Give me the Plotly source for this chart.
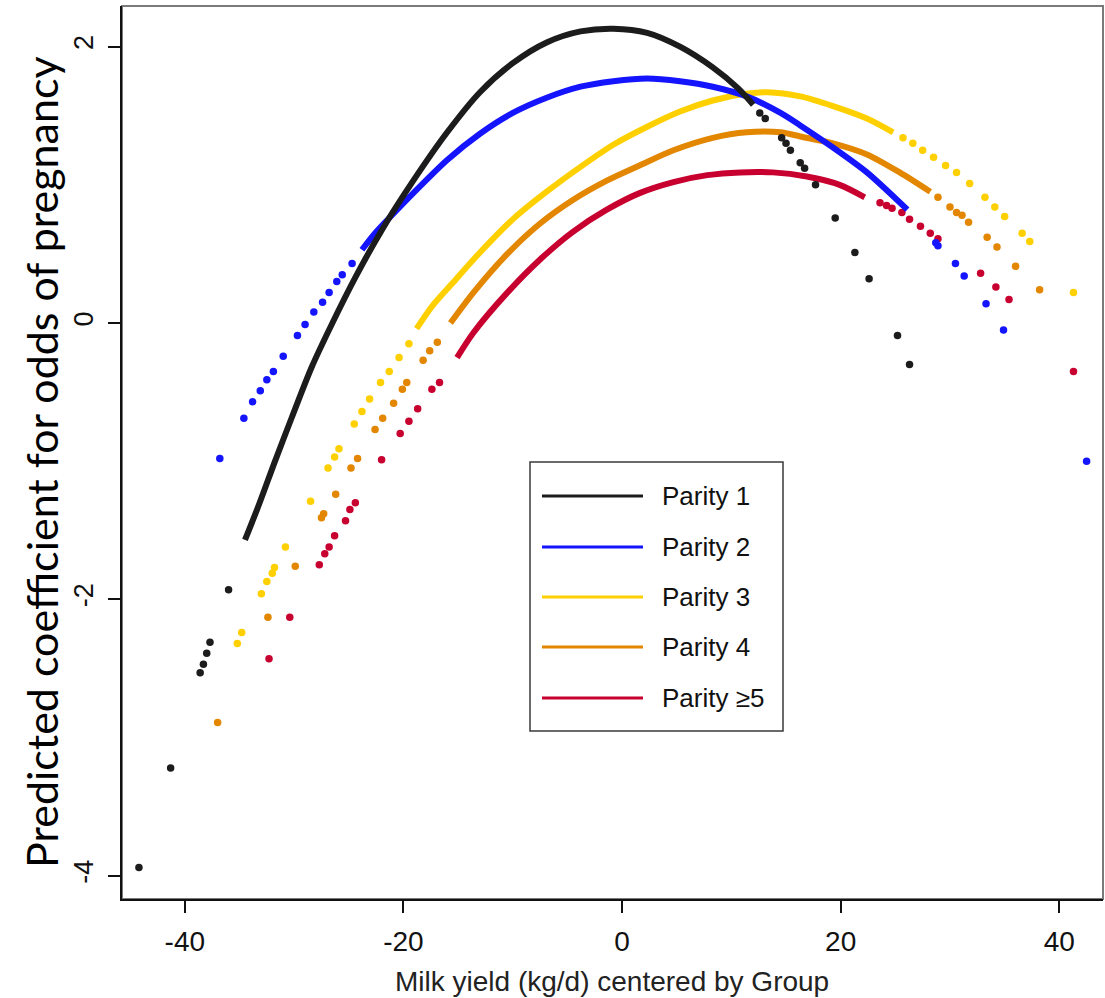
import plotly.graph_objects as go

# ---------------- data ----------------
series_names = ["Parity 1", "Parity 2", "Parity 3", "Parity 4", "Parity \u22655"]
series_colors = ["#1c1c1c", "#1414ff", "#ffd000", "#e38600", "#c8002f"]

# Parity 1 (dense core + sparse points)
p1_core_x = [-34.5, -33.2, -31.8, -30.2, -28.4, -26.5, -24.4, -22.0, -19.1, -16.0, -13.0, -10.0,
             -6.9, -3.8, -0.8, 2.3, 5.3, 8.3, 10.6, 12.0]
p1_core_y = [-1.57, -1.31, -1.01, -0.68, -0.32, 0.0, 0.33, 0.67, 1.03, 1.38, 1.67, 1.88,
             2.03, 2.11, 2.13, 2.10, 2.00, 1.85, 1.70, 1.58]
p1_pts_x = [-44.2, -41.3, -38.6, -38.3, -38.0, -37.7, -36.0, 12.6, 13.1, 14.6, 15.0, 15.4, 16.3,
            16.7, 17.7, 19.5, 21.3, 22.6, 25.2, 26.3]
p1_pts_y = [-3.94, -3.22, -2.53, -2.47, -2.39, -2.31, -1.93, 1.52, 1.48, 1.34, 1.30, 1.25, 1.16,
            1.12, 1.00, 0.76, 0.51, 0.32, -0.09, -0.30]

# Parity 2
p2_core_x = [-23.8, -22.6, -21.3, -19.1, -16.0, -13.0, -10.0, -6.9, -3.8, -0.8, 2.3, 5.3, 8.3,
             11.4, 14.5, 16.3, 19.3, 22.4, 26.1]
p2_core_y = [0.53, 0.65, 0.76, 0.94, 1.18, 1.37, 1.52, 1.63, 1.71, 1.75, 1.77, 1.75, 1.71,
             1.64, 1.52, 1.43, 1.27, 1.09, 0.82]
p2_pts_x = [-36.8, -34.6, -33.8, -33.1, -32.5, -31.9, -31.0, -29.7, -29.0, -28.2, -27.4, -26.8,
            -26.1, -25.6, -24.7, 28.7, 28.9, 30.5, 31.3, 33.3, 34.9, 42.5]
p2_pts_y = [-0.98, -0.69, -0.57, -0.49, -0.41, -0.35, -0.24, -0.09, -0.01, 0.08, 0.15, 0.22,
            0.30, 0.35, 0.43, 0.58, 0.56, 0.43, 0.34, 0.14, -0.05, -1.00]

# Parity 3
p3_core_x = [-18.8, -17.3, -15.5, -13.0, -10.0, -6.9, -3.8, -0.8, 2.3, 5.3, 8.3, 11.4, 13.3,
             16.3, 19.3, 22.4, 24.8]
p3_core_y = [-0.04, 0.13, 0.29, 0.51, 0.75, 0.95, 1.13, 1.29, 1.42, 1.53, 1.61, 1.66, 1.67,
             1.64, 1.57, 1.48, 1.38]
p3_pts_x = [-35.2, -34.8, -33.0, -32.5, -32.0, -31.8, -30.8, -28.5, -26.9, -26.3, -25.9, -24.5,
            -23.8, -23.1, -22.1, -21.3, -20.4, -19.5, 25.7, 26.6, 27.5, 28.5, 29.6, 30.6, 31.8,
            33.2, 34.1, 35.0, 36.6, 37.3, 41.3]
p3_pts_y = [-2.32, -2.24, -1.96, -1.87, -1.81, -1.77, -1.62, -1.29, -1.05, -0.97, -0.91, -0.73,
            -0.64, -0.55, -0.43, -0.35, -0.25, -0.15, 1.34, 1.30, 1.25, 1.20, 1.14, 1.09, 1.01,
            0.91, 0.84, 0.77, 0.65, 0.59, 0.22]

# Parity 4
p4_core_x = [-15.7, -13.6, -10.5, -7.5, -4.5, -1.4, 1.6, 4.7, 8.3, 11.4, 14.5, 16.3, 19.3, 22.4,
             25.4, 28.2]
p4_core_y = [0.0, 0.22, 0.50, 0.72, 0.89, 1.03, 1.14, 1.25, 1.34, 1.38, 1.38, 1.35, 1.30, 1.22,
             1.09, 0.95]
p4_pts_x = [-37.0, -32.4, -29.9, -27.5, -27.3, -26.2, -24.8, -24.2, -22.6, -21.9, -20.9, -20.1,
            -19.7, -18.2, -17.6, -16.9, 28.9, 30.0, 30.6, 31.1, 31.7, 33.4, 34.3, 36.0, 38.2]
p4_pts_y = [-2.89, -2.13, -1.76, -1.41, -1.38, -1.24, -1.05, -0.98, -0.77, -0.69, -0.58, -0.48,
            -0.43, -0.27, -0.20, -0.14, 0.91, 0.84, 0.80, 0.78, 0.73, 0.62, 0.55, 0.41, 0.24]

# Parity >=5
p5_core_x = [-15.1, -13.6, -10.5, -7.5, -4.5, -1.4, 1.6, 4.7, 7.8, 10.8, 13.8, 16.9, 19.9, 22.2]
p5_core_y = [-0.25, -0.07, 0.22, 0.46, 0.66, 0.82, 0.94, 1.02, 1.07, 1.09, 1.09, 1.06, 1.00, 0.91]
p5_pts_x = [-32.3, -30.4, -27.7, -27.2, -26.8, -26.3, -25.3, -24.9, -24.4, -22.0, -20.3, -19.5,
            -18.7, -17.4, -16.7, 23.6, 24.2, 24.7, 25.6, 26.3, 27.3, 28.2, 28.9, 32.8, 34.2, 35.4,
            41.3]
p5_pts_y = [-2.43, -2.13, -1.75, -1.67, -1.62, -1.54, -1.43, -1.35, -1.30, -0.99, -0.80, -0.71,
            -0.62, -0.48, -0.43, 0.87, 0.85, 0.83, 0.80, 0.75, 0.70, 0.65, 0.61, 0.36, 0.26, 0.17,
            -0.35]

x_ticks = [-40, -20, 0, 20, 40]
y_ticks = [-4, -2, 0, 2]
x_title = "Milk yield (kg/d) centered by Group"
y_title = "Predicted coefficient for odds of pregnancy"

# ---------------- figure ----------------
cores = [(p1_core_x, p1_core_y), (p2_core_x, p2_core_y), (p3_core_x, p3_core_y),
         (p4_core_x, p4_core_y), (p5_core_x, p5_core_y)]
pts = [(p1_pts_x, p1_pts_y), (p2_pts_x, p2_pts_y), (p3_pts_x, p3_pts_y),
       (p4_pts_x, p4_pts_y), (p5_pts_x, p5_pts_y)]

W, H = 1105, 998
ML, MR, MT, MB = 122, 2, 6, 99
PW, PH = W - ML - MR, H - MT - MB

def px(x):
    return (x - ML) / PW

def py(y):
    return 1 - (y - MT) / PH

SANS = "Liberation Sans, Arial, Helvetica, sans-serif"

fig = go.Figure()
draw_order = [2, 3, 4, 1, 0]
for i in draw_order:
    cx, cy = cores[i]
    sx, sy = pts[i]
    fig.add_trace(go.Scatter(x=sx, y=sy, mode="markers", name=series_names[i],
                             marker=dict(color=series_colors[i], size=7.5, line=dict(width=0)),
                             showlegend=False, hoverinfo="x+y"))
    fig.add_trace(go.Scatter(x=cx, y=cy, mode="lines", name=series_names[i],
                             line=dict(color=series_colors[i], width=6, shape="spline", smoothing=0.8),
                             showlegend=False, hoverinfo="x+y"))

shapes = [dict(type="rect", xref="paper", yref="paper", x0=0, x1=1, y0=0, y1=1,
               line=dict(color="#7a7a7a", width=2), layer="below")]
annotations = []

# legend box (drawn manually to mimic the R legend)
lx0, lx1, ly0, ly1 = 530, 783, 462, 731
shapes.append(dict(type="rect", xref="paper", yref="paper", x0=px(lx0), x1=px(lx1),
                   y0=py(ly1), y1=py(ly0), line=dict(color="#3a3a3a", width=1.5),
                   fillcolor="rgba(255,255,255,0)"))
row_y = [496, 547, 597, 647, 698]
for i, ry in enumerate(row_y):
    shapes.append(dict(type="line", xref="paper", yref="paper", x0=px(542), x1=px(643),
                       y0=py(ry), y1=py(ry), line=dict(color=series_colors[i], width=3)))
    annotations.append(dict(xref="paper", yref="paper", x=px(660), y=py(ry), text=series_names[i],
                            showarrow=False, xanchor="left", yanchor="middle",
                            font=dict(family=SANS, size=26, color="#111111")))

# axis titles
annotations.append(dict(xref="paper", yref="paper", x=px(612), y=py(982), text=x_title,
                        showarrow=False, xanchor="center", yanchor="middle",
                        font=dict(family=SANS, size=28, color="#222222")))
annotations.append(dict(xref="paper", yref="paper", x=px(42), y=py(462), text=y_title,
                        showarrow=False, xanchor="center", yanchor="middle", textangle=-90,
                        font=dict(family="Lato, Open Sans, sans-serif", size=43, color="#000000")))

fig.update_layout(
    width=W, height=H, autosize=False,
    margin=dict(l=ML, r=MR, t=MT, b=MB, pad=0),
    paper_bgcolor="white", plot_bgcolor="white",
    showlegend=False,
    shapes=shapes, annotations=annotations,
    xaxis=dict(range=[-45.75, 44.0], tickvals=x_ticks, ticktext=[str(v) for v in x_ticks],
               showgrid=False, zeroline=False, showline=True, linecolor="#111111", linewidth=2,
               ticks="outside", ticklen=12, tickwidth=1.5, tickcolor="#111111",
               tickfont=dict(family=SANS, size=28, color="#111111"), ticklabelstandoff=4),
    yaxis=dict(range=[-4.168, 2.294], tickvals=y_ticks, ticktext=[str(v) for v in y_ticks],
               showgrid=False, zeroline=False, showline=True, linecolor="#111111", linewidth=2,
               ticks="outside", ticklen=12, tickwidth=1.5, tickcolor="#111111", tickangle=-90,
               tickfont=dict(family=SANS, size=27, color="#111111"), ticklabelstandoff=4),
)

fig.write_html("out.html")
